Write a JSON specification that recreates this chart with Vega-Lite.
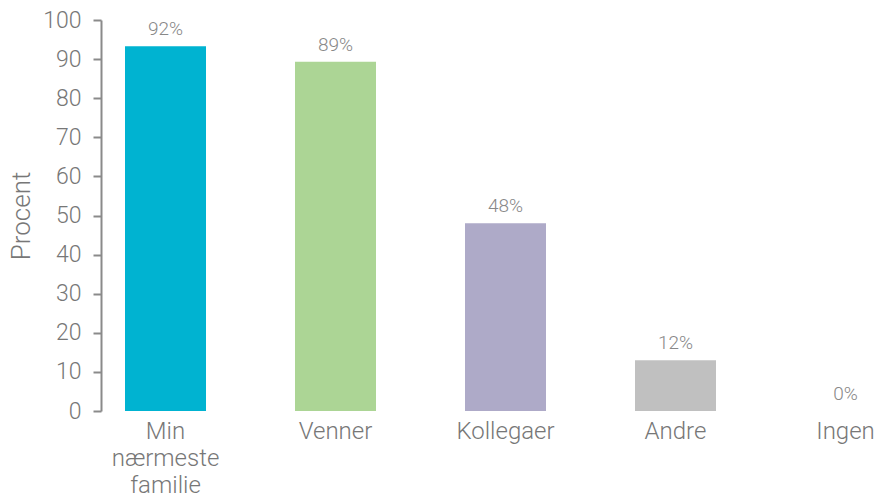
{
  "$schema": "https://vega.github.io/schema/vega-lite/v6.json",
  "width": 785,
  "height": 391,
  "autosize": {"type": "none"},
  "padding": {"left": 101, "top": 20, "right": 0, "bottom": 89},
  "background": "white",
  "config": {"view": {"stroke": null}, "font": "Roboto"},
  "data": {"values": [
    {"kategori": "Min nærmeste familie", "procent": 93.3, "label": "92%", "farve": "#00b3d1"},
    {"kategori": "Venner", "procent": 89.3, "label": "89%", "farve": "#acd595"},
    {"kategori": "Kollegaer", "procent": 48.0, "label": "48%", "farve": "#aeaac8"},
    {"kategori": "Andre", "procent": 13.0, "label": "12%", "farve": "#c0c0c0"},
    {"kategori": "Ingen", "procent": 0, "label": "0%", "farve": "#c0c0c0"}
  ]},
  "encoding": {
    "x": {
      "field": "kategori", "type": "nominal", "sort": null,
      "scale": {"paddingInner": 0.5235, "paddingOuter": 0.0706, "align": 1},
      "axis": {
        "title": null, "domain": false, "ticks": false, "labelAngle": 0,
        "labelFontSize": 24, "labelColor": "#777777", "labelFontWeight": 300,
        "labelPadding": 8, "labelLineHeight": 27,
        "labelExpr": "datum.value == 'Min nærmeste familie' ? ['Min', 'nærmeste', 'familie'] : datum.value"
      }
    },
    "y": {
      "field": "procent", "type": "quantitative",
      "scale": {"domain": [0, 100], "nice": false},
      "axis": {
        "title": "Procent", "titleFontSize": 26, "titleColor": "#777777", "titleFontWeight": 300,
        "titlePadding": 8,
        "values": [0, 10, 20, 30, 40, 50, 60, 70, 80, 90, 100],
        "grid": false, "domainColor": "#8a8a8a", "domainWidth": 2,
        "tickColor": "#8a8a8a", "tickWidth": 2, "tickSize": 8,
        "labelFontSize": 23, "labelColor": "#777777", "labelFontWeight": 300, "labelPadding": 12
      }
    }
  },
  "layer": [
    {"mark": {"type": "bar"}, "encoding": {"color": {"field": "farve", "type": "nominal", "scale": null}}},
    {"mark": {"type": "text", "baseline": "bottom", "dy": -7, "fontSize": 19, "color": "#888888", "fontWeight": 300},
     "encoding": {"text": {"field": "label"}}}
  ]
}
